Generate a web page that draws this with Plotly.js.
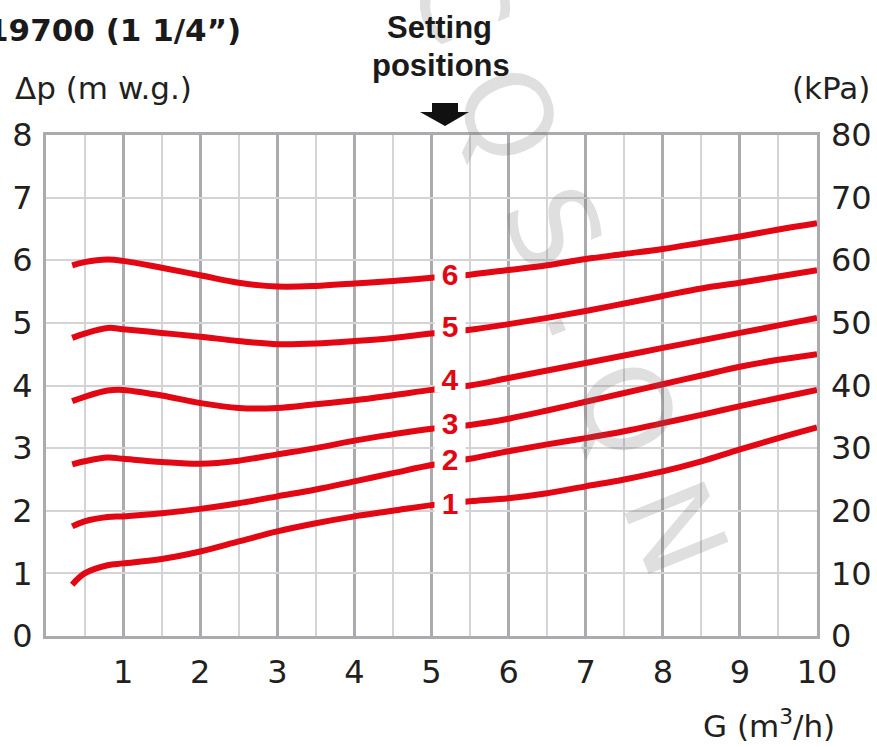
<!DOCTYPE html>
<html><head><meta charset="utf-8">
<script src="https://cdn.plot.ly/plotly-3.0.1.min.js"></script>
<style>html,body{margin:0;padding:0;background:#fff}#chart{width:877px;height:747px}</style>
</head><body><div id="chart"></div>
<script>
// ---- data ----
const flowG = [0.34, 0.5, 0.8, 1, 1.5, 2, 2.5, 3, 3.5, 4, 4.5, 5, 5.5, 6, 6.5, 7, 7.5, 8, 8.5, 9, 9.5, 10];
const dp1 = [0.82, 1.00, 1.13, 1.16, 1.23, 1.35, 1.51, 1.67, 1.80, 1.91, 2.00, 2.09, 2.15, 2.20, 2.28, 2.39, 2.50, 2.63, 2.79, 2.98, 3.16, 3.33];
const dp2 = [1.75, 1.83, 1.90, 1.91, 1.96, 2.03, 2.12, 2.23, 2.34, 2.47, 2.60, 2.73, 2.83, 2.95, 3.06, 3.16, 3.27, 3.40, 3.53, 3.67, 3.80, 3.93];
const dp3 = [2.74, 2.79, 2.85, 2.83, 2.78, 2.75, 2.80, 2.90, 3.00, 3.12, 3.22, 3.31, 3.37, 3.47, 3.60, 3.74, 3.88, 4.02, 4.16, 4.30, 4.41, 4.50];
const dp4 = [3.75, 3.82, 3.92, 3.93, 3.84, 3.72, 3.64, 3.64, 3.70, 3.765, 3.845, 3.93, 4.00, 4.12, 4.24, 4.36, 4.48, 4.60, 4.72, 4.84, 4.96, 5.08];
const dp5 = [4.76, 4.83, 4.92, 4.90, 4.84, 4.78, 4.71, 4.66, 4.67, 4.71, 4.76, 4.83, 4.89, 4.98, 5.08, 5.19, 5.31, 5.43, 5.55, 5.64, 5.74, 5.84];
const dp6 = [5.92, 5.97, 6.01, 5.99, 5.88, 5.76, 5.64, 5.58, 5.59, 5.63, 5.67, 5.72, 5.77, 5.845, 5.92, 6.02, 6.10, 6.18, 6.28, 6.38, 6.49, 6.59];
const settingNames = ['1', '2', '3', '4', '5', '6'];
const settingLabelDp = [2.12, 2.82, 3.40, 4.09, 4.95, 5.78];
const settingLabelG = 5.24;
const xTickVals = [1, 2, 3, 4, 5, 6, 7, 8, 9, 10];
const xMinorVals = [0.5, 1.5, 2.5, 3.5, 4.5, 5.5, 6.5, 7.5, 8.5, 9.5];
const yTickVals = [0, 1, 2, 3, 4, 5, 6, 7, 8];
const kPaTickVals = [0, 10, 20, 30, 40, 50, 60, 70, 80];
const kPaPerMwg = 10; // scale of the right-hand axis against the left one
const titleText = '19700 (1 1/4\u201D)';
const settingTitle = ['Setting', 'positions'];
const yTitle = '\u0394p (m w.g.)';
const y2Title = '(kPa)';
const xTitle = 'G (m<sup>3</sup>/h)';
const watermark = 'C Q S . Q N';

// ---- layout helpers (pixel -> paper) ----
const W = 877, H = 747, ML = 46, MR = 60, MT = 135, MB = 111;
const PW = W - ML - MR, PH = H - MT - MB;
const px = v => (v - ML) / PW;
const py = v => (H - MB - v) / PH;

const RED = '#e30613';
const INK = '#231f20';
const MAJOR = '#ababaf';
const MINOR = '#d4d4d6';
const tickFont = {family: 'DejaVu Sans, sans-serif', size: 32, color: INK};

const series = [dp1, dp2, dp3, dp4, dp5, dp6];
const traces = series.map((s, i) => ({
  x: flowG, y: s, type: 'scatter', mode: 'lines', name: settingNames[i],
  line: {color: RED, width: 6, shape: 'spline', smoothing: 1},
  hoverinfo: 'skip', showlegend: false
}));
// same top curve expressed in kPa on the right-hand axis (invisible, keeps that axis drawn)
traces.push({
  x: flowG, y: dp6.map(v => v * kPaPerMwg), type: 'scatter', mode: 'lines', yaxis: 'y2',
  line: {color: 'rgba(0,0,0,0)', width: 0}, hoverinfo: 'skip', showlegend: false
});

const annotations = [];
annotations.push({xref: 'paper', yref: 'paper', x: px(568), y: py(265), xanchor: 'center', yanchor: 'middle',
  text: watermark, showarrow: false, textangle: 68,
  font: {family: 'DejaVu Sans, sans-serif', size: 118, color: 'rgba(110,110,110,0.22)'}});
settingNames.forEach((n, i) => annotations.push({
  xref: 'x', yref: 'y', x: settingLabelG, y: settingLabelDp[i], text: '<b>' + n + '</b>',
  showarrow: false, font: {family: 'Liberation Sans, Arial, sans-serif', size: 30, color: RED},
  bgcolor: '#ffffff', width: 30, height: 25, borderpad: 0, xanchor: 'center', yanchor: 'middle'
}));
annotations.push({xref: 'paper', yref: 'paper', x: px(-15), y: py(30), xanchor: 'left', yanchor: 'middle',
  text: '<b>' + titleText + '</b>', showarrow: false,
  font: {family: 'DejaVu Sans, sans-serif', size: 31, color: '#1a1a1a'}});
annotations.push({xref: 'paper', yref: 'paper', x: px(440), y: py(27), xanchor: 'center', yanchor: 'middle',
  text: '<b>' + settingTitle[0] + '</b>', showarrow: false,
  font: {family: 'Liberation Sans, Arial, sans-serif', size: 31, color: '#1a1a1a'}});
annotations.push({xref: 'paper', yref: 'paper', x: px(441), y: py(65), xanchor: 'center', yanchor: 'middle',
  text: '<b>' + settingTitle[1] + '</b>', showarrow: false,
  font: {family: 'Liberation Sans, Arial, sans-serif', size: 31, color: '#1a1a1a'}});
annotations.push({xref: 'paper', yref: 'paper', x: px(13), y: py(88), xanchor: 'left', yanchor: 'middle',
  text: yTitle, showarrow: false, font: {family: 'DejaVu Sans, sans-serif', size: 31, color: INK}});
annotations.push({xref: 'paper', yref: 'paper', x: px(872), y: py(88), xanchor: 'right', yanchor: 'middle',
  text: y2Title, showarrow: false, font: {family: 'DejaVu Sans, sans-serif', size: 31, color: INK}});
annotations.push({xref: 'paper', yref: 'paper', x: px(837), y: py(724), xanchor: 'right', yanchor: 'middle',
  text: xTitle, showarrow: false, font: {family: 'DejaVu Sans, sans-serif', size: 31, color: INK}});

const arrowPath = 'M ' + px(432) + ' ' + py(103) + ' L ' + px(458) + ' ' + py(103) + ' L ' + px(458) + ' ' + py(112) +
  ' L ' + px(469) + ' ' + py(112) + ' L ' + px(445) + ' ' + py(126) + ' L ' + px(420) + ' ' + py(112) +
  ' L ' + px(432) + ' ' + py(112) + ' Z';

const layout = {
  width: W, height: H,
  margin: {l: ML, r: MR, t: MT, b: MB, pad: 0},
  paper_bgcolor: '#ffffff', plot_bgcolor: '#ffffff',
  showlegend: false,
  xaxis: {
    range: [0, 10], tickmode: 'array', tickvals: xTickVals, ticktext: xTickVals.map(String),
    showgrid: true, gridcolor: MAJOR, gridwidth: 3,
    minor: {tickmode: 'array', tickvals: xMinorVals, showgrid: true, gridcolor: MINOR, gridwidth: 2, ticks: ''},
    showline: true, mirror: true, linecolor: MAJOR, linewidth: 3,
    ticks: '', ticklabelstandoff: 6, tickfont: tickFont, zeroline: false, fixedrange: true
  },
  yaxis: {
    range: [0, 8], tickmode: 'array', tickvals: yTickVals, ticktext: yTickVals.map(String),
    showgrid: true, gridcolor: MINOR, gridwidth: 2,
    showline: true, mirror: true, linecolor: MAJOR, linewidth: 3,
    ticks: '', ticklabelstandoff: 4, tickfont: tickFont, zeroline: false, fixedrange: true
  },
  yaxis2: {
    range: [0, 80], overlaying: 'y', side: 'right', anchor: 'x',
    tickmode: 'array', tickvals: kPaTickVals, ticktext: kPaTickVals.map(String),
    showgrid: false, showline: false, zeroline: false,
    ticks: '', ticklabelstandoff: 13, tickfont: tickFont, fixedrange: true
  },
  annotations: annotations,
  shapes: [{type: 'path', xref: 'paper', yref: 'paper', path: arrowPath, fillcolor: '#111111', line: {width: 0}}]
};

Plotly.newPlot('chart', traces, layout, {displayModeBar: false, staticPlot: true});
</script></body></html>
